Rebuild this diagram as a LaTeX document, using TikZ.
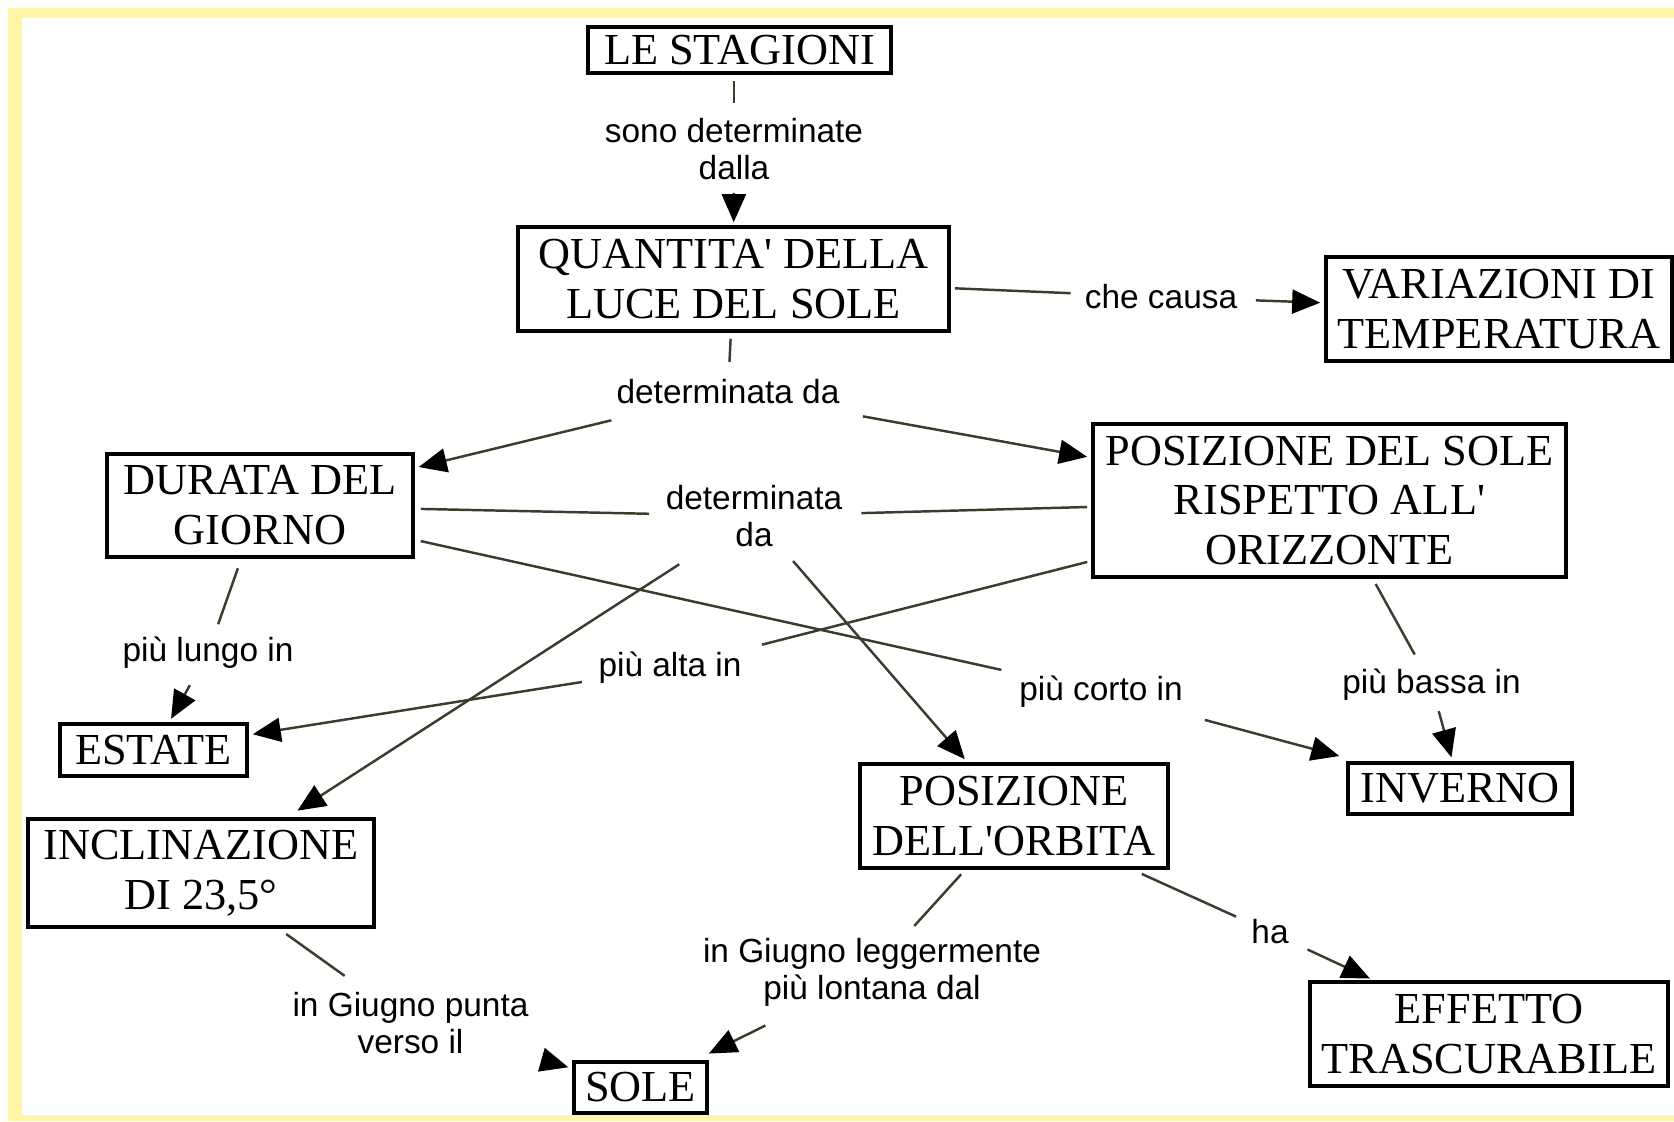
\documentclass[tikz,border=0pt]{standalone}
\usepackage{fontspec}
\setmainfont{Liberation Serif}
\setsansfont{Liberation Sans}
\usetikzlibrary{arrows.meta}
\definecolor{linkgray}{RGB}{60,60,45}
\definecolor{framey}{RGB}{255,246,165}
\tikzset{x=0.01cm, y=-0.01cm,
  box/.style 2 args={draw, line width=1pt, rectangle, inner sep=0pt, align=center, minimum width=#1cm, minimum height=#2cm, font=\fontsize{12.6}{14.2}\selectfont},
  lbl/.style={inner sep=0pt, align=center, font=\sffamily\fontsize{9.5}{10.5}\selectfont},
  link/.style={draw=linkgray, line width=0.7pt, shorten <=0.06cm, shorten >=0.16cm},
  arrow/.style={link, -{Triangle[length=0.28cm,width=0.24cm,color=black]}, shorten <=0.18cm, shorten >=0.04cm}}
\begin{document}
\begin{tikzpicture}
		\useasboundingbox (0,0) rectangle (1674,1121);
		\fill[framey] (8,8) rectangle (1674,18);
		\fill[framey] (8,8) rectangle (22,1121);
		\fill[framey] (8,1115) rectangle (1674,1121);

		\node [box={3.03}{0.46}] (stagioni) at (739.5,50) {LE STAGIONI};
		\node [box={4.31}{1.04}] (quantita) at (733.5,279) {QUANTITA\textquotesingle{} DELLA\\LUCE DEL SOLE};
		\node [box={3.46}{1.04}] (variazioni) at (1499,309) {VARIAZIONI DI\\TEMPERATURA};
		\node [box={3.06}{1.03}] (durata) at (260,505.5) {DURATA DEL\\GIORNO};
		\node [box={4.73}{1.53}] (possole) at (1329.5,500.5) {POSIZIONE DEL SOLE\\RISPETTO ALL\textquotesingle\\ORIZZONTE};
		\node [box={1.87}{0.52}] (estate) at (153.5,750) {ESTATE};
		\node [box={3.46}{1.08}] (inclinazione) at (201,873) {INCLINAZIONE\\DI 23,5°};
		\node [box={1.33}{0.51}] (sole) at (640.5,1087.5) {SOLE};
		\node [box={3.08}{1.04}] (orbita) at (1014,816) {POSIZIONE\\DELL\textquotesingle ORBITA};
		\node [box={2.24}{0.51}] (inverno) at (1460,788.5) {INVERNO};
		\node [box={3.58}{1.04}] (effetto) at (1489,1034) {EFFETTO\\TRASCURABILE};

		\node [lbl] (l1) at (734,149) {sono determinate\\dalla};
		\node [lbl] (l2) at (1161,297) {che causa};
		\node [lbl] (l3) at (728,392) {determinata da};
		\node [lbl] (l4) at (754,516) {determinata\\da};
		\node [lbl] (l5) at (208,653) {più lungo in};
		\node [lbl] (l6) at (670,668) {più alta in};
		\node [lbl] (l7) at (1101,692) {più corto in};
		\node [lbl] (l8) at (1431.5,685) {più bassa in};
		\node [lbl] (l9) at (872,972.5) {in Giugno leggermente\\più lontana dal};
		\node [lbl] (l10) at (1270,932) {ha};
		\node [lbl] (l11) at (410.5,1023) {in Giugno punta\\verso il};

		\draw [link, shorten >=0.15cm] (stagioni.south -| l1) -- (l1);
		\draw [arrow, shorten <=0.125cm, shorten >=0.03cm] (l1) -- (quantita);
		\draw [link, shorten <=0.04cm, shorten >=0.135cm] (quantita) -- (l2);
		\draw [arrow] (l2) -- (variazioni);
		\draw [link, shorten >=0.17cm] (quantita) -- (l3);
		\draw [arrow, shorten <=0.65cm] (l3) -- (durata);
		\draw [arrow, shorten <=0.64cm] (l3) -- (possole);
		\draw [link] (durata) -- (l4);
		\draw [link, shorten <=0.04cm, shorten >=0.185cm] (possole) -- (l4);
		\draw [arrow, shorten <=0.31cm, shorten >=0.12cm] (l4) -- (inclinazione);
		\draw [arrow] (l4) -- (orbita);
		\draw [link, shorten <=0.1cm, shorten >=0.13cm] (durata) -- (l5);
		\draw [arrow] (l5) -- (estate);
		\draw [link, shorten >=0.26cm] (durata) -- (l7);
		\draw [arrow, shorten <=0.44cm, shorten >=0.2cm] (l7) -- (inverno);
		\draw [link, shorten <=0.04cm, shorten >=0.28cm] (possole) -- (l6);
		\draw [arrow, shorten <=0.16cm] (l6) -- (estate);
		\draw [link] (possole) -- (l8);
		\draw [arrow, shorten <=0.1cm] (l8) -- (inverno);
		\draw [link] (orbita) -- (l9);
		\draw [arrow, shorten <=0.41cm, shorten >=0.15cm] (l9) -- (sole);
		\draw [link, shorten <=0.1cm] (orbita) -- (l10);
		\draw [arrow, shorten <=0.2cm] (l10) -- (effetto);
		\draw [link, shorten <=0.09cm, shorten >=0.27cm] (inclinazione) -- (l11);
		\draw [arrow, shorten <=0.22cm] (l11) -- (sole);
	\end{tikzpicture}
\end{document}
